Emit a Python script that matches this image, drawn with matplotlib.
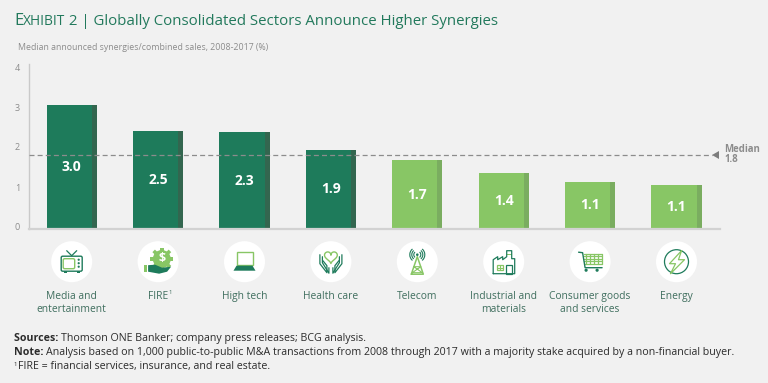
import numpy as np
import matplotlib
matplotlib.use("Agg")
import matplotlib.pyplot as plt
from matplotlib.patches import Circle, Rectangle, Polygon, Arc, FancyBboxPatch

categories = ["Media and\nentertainment", "FIRE", "High tech", "Health care", "Telecom",
              "Industrial and\nmaterials", "Consumer goods\nand services", "Energy"]
bar_heights = [3.03, 2.40, 2.36, 1.93, 1.68, 1.37, 1.15, 1.08]
bar_labels = ["3.0", "2.5", "2.3", "1.9", "1.7", "1.4", "1.1", "1.1"]
groups = ["high", "high", "high", "high", "low", "low", "low", "low"]
median = 1.8
y_tick_labels = ["0", "1", "2", "3", "4"]

BG = "#f1f1f1"
DARK = "#1e7b5b"
DARK_SIDE = "#33664f"
LIGHT = "#88c665"
LIGHT_SIDE = "#7aad60"
TITLE = "#22795c"
LABEL = "#3f6e5e"
GREY = "#8c8c8c"
FONT = "Open Sans"

W, H = 768, 383
plt.rcParams["font.family"] = FONT
fig = plt.figure(figsize=(W / 100, H / 100), dpi=100, facecolor=BG)

# main axes placed in pixels: axis 28.5-719.7, baseline y=229, top y=64
ax = fig.add_axes([28.5 / W, 1 - 229 / H, (719.7 - 28.5) / W, 165 / H], facecolor="none")
ax.set_xlim(-0.5, 7.5)
ax.set_ylim(0, 165 / 41)

bar_w = 0.582
side_w = 0.058
for i, h in enumerate(bar_heights):
    col, side = (DARK, DARK_SIDE) if groups[i] == "high" else (LIGHT, LIGHT_SIDE)
    ax.bar(i, h, width=bar_w, color=col, zorder=2)
    ax.bar(i + bar_w / 2 - side_w / 2, h, width=side_w, color=side, zorder=2)
    ax.text(i, h / 2, bar_labels[i], color="white", fontsize=10, fontweight="bold",
            ha="center", va="center", zorder=4)

ax.plot([-0.5, 7.41], [median, median], color=GREY, lw=0.9, dashes=(4, 2.5), zorder=3)

for s in ["top", "right"]:
    ax.spines[s].set_visible(False)
ax.spines["left"].set_color("#c9c9c9")
ax.spines["left"].set_linewidth(1)
ax.spines["bottom"].set_color("#d2d2d2")
ax.spines["bottom"].set_linewidth(1.6)
ax.set_xticks([])
# the printed labels sit slightly off the true scale in the original
ax.set_yticks([0.07, 1.02, 2.0, 2.97, 3.93])
ax.set_yticklabels(y_tick_labels, fontsize=6.5, color=GREY)
ax.tick_params(axis="y", length=0, pad=6)

# overlay in pixel coordinates for texts and icons
ov = fig.add_axes([0, 0, 1, 1], facecolor="none")
ov.set_xlim(0, W)
ov.set_ylim(H, 0)
ov.axis("off")


def runs(x, y, parts):
    """Write text pieces one after another on a line"""
    r = fig.canvas.get_renderer()
    for txt, dy, kw in parts:
        t = ov.text(x, y + dy, txt, va="baseline", ha="left", **kw)
        x = ov.transData.inverted().transform(t.get_window_extent(r).get_points())[1][0]
    return x


# title, small caps by hand
runs(14, 25, [("E", 0, dict(fontsize=11.8, color=TITLE)),
              ("XHIBIT", 0, dict(fontsize=9.9, color=TITLE)),
              (" 2 | Globally Consolidated Sectors Announce Higher Synergies", 0,
               dict(fontsize=10.8, color=TITLE))])
ov.text(18, 47.5, "Median announced synergies/combined sales, 2008-2017 (%)",
        fontsize=6.3, color=GREY, va="center")

# median marker
ov.add_patch(Polygon([[712, 155], [719, 151], [719, 159]], color="#7d7d7d", lw=0))
ov.text(724, 149, "Median", fontsize=6.9, fontweight="bold", color=GREY, va="center")
ov.text(724, 160, "1.8", fontsize=6.9, fontweight="bold", color=GREY, va="center")


def rect(cx, cy, x0, y0, x1, y1, **kw):
    ov.add_patch(Rectangle((cx + x0, cy + y0), x1 - x0, y1 - y0, **kw))


def line(cx, cy, pts, color, lw=0.9):
    p = np.array(pts, dtype=float)
    ov.plot(cx + p[:, 0], cy + p[:, 1], color=color, lw=lw, solid_capstyle="round")


def icon_tv(cx, cy):
    ov.add_patch(FancyBboxPatch((cx - 10.5, cy - 5.5), 21, 15, boxstyle="round,pad=0,rounding_size=1.5",
                                fc="none", ec=DARK, lw=1))
    ov.add_patch(FancyBboxPatch((cx - 8.5, cy - 3), 11.5, 10, boxstyle="round,pad=0,rounding_size=1.5",
                                fc="none", ec=LIGHT, lw=1))
    for dy in [-2, 1.5, 5]:
        ov.add_patch(Circle((cx + 7, cy + dy), 1.1, color=DARK, lw=0))
    line(cx, cy, [(-5, -11), (0, -6), (5, -11)], DARK)
    rect(cx, cy, -8, 9.5, -5, 11.5, color=DARK, lw=0)
    rect(cx, cy, 5, 9.5, 8, 11.5, color=DARK, lw=0)


def icon_fire(cx, cy):
    gx, gy = cx + 3.7, cy - 2.7
    for a in np.arange(0, 360, 45):
        ov.add_patch(Rectangle((gx - 1.8, gy - 11.5), 3.6, 4, color=LIGHT, lw=0,
                               transform=matplotlib.transforms.Affine2D().rotate_deg_around(gx, gy, a) + ov.transData))
    ov.add_patch(Circle((gx, gy), 9, color=LIGHT, lw=0))
    ov.text(gx, gy, "$", color="white", fontsize=9, fontweight="bold", ha="center", va="center")
    ov.add_patch(Polygon([[cx - 10, cy + 3.5], [cx - 3, cy + 3], [cx + 4, cy + 6], [cx + 13, cy + 5],
                          [cx + 9, cy + 10], [cx + 1, cy + 12], [cx - 10, cy + 10]], color=DARK, lw=0))
    rect(cx, cy, -14, 3, -11, 10.5, color=LIGHT, lw=0)


def icon_laptop(cx, cy):
    rect(cx, cy, -8, -9.5, 8, 3, fc="none", ec=LIGHT, lw=1)
    ov.add_patch(Polygon([[cx - 8, cy + 4], [cx + 8, cy + 4], [cx + 11, cy + 9], [cx - 11, cy + 9]],
                         color=DARK, lw=0))


def icon_health(cx, cy):
    t = np.linspace(0, 2 * np.pi, 60)
    hx = 16 * np.sin(t) ** 3 * 0.4
    hy = -(13 * np.cos(t) - 5 * np.cos(2 * t) - 2 * np.cos(3 * t) - np.cos(4 * t)) * 0.4
    ov.plot(cx + hx, cy - 5 + hy, color=LIGHT, lw=1)
    for s in [-1, 1]:
        line(cx, cy, [(s * 11, -7), (s * 11, 2), (s * 4, 11), (s * 4, 4), (s * 8, -1)], DARK)
        line(cx, cy, [(s * 8.5, -5), (s * 8.5, 1), (s * 2, 11.5), (s * 2, 6)], DARK)


def icon_telecom(cx, cy):
    ov.add_patch(Circle((cx, cy - 7), 1.3, color=DARK, lw=0))
    for r in [3.5, 5.5, 7.5]:
        ov.add_patch(Arc((cx, cy - 7), 2 * r, 2 * r, theta1=-50, theta2=50, color=DARK, lw=0.8))
        ov.add_patch(Arc((cx, cy - 7), 2 * r, 2 * r, theta1=130, theta2=230, color=DARK, lw=0.8))
    line(cx, cy, [(-6, 12.5), (0, -5), (6, 12.5), (-6, 12.5)], LIGHT, 1.1)
    line(cx, cy, [(-3.5, 5), (3.5, 5), (-5, 11), (5, 11), (-3.5, 5)], LIGHT, 0.8)


def icon_factory(cx, cy):
    line(cx, cy, [(-10.5, 12), (-10.5, -2), (-6, -5), (-6, -2), (-1, -5), (-1, -2), (3, -5), (3, -11),
                  (8, -11), (8, -3), (11, -3), (11, 12), (-10.5, 12)], DARK)
    rect(cx, cy, 2.5, 3, 8, 12, fc="none", ec=DARK, lw=0.9)
    rect(cx, cy, -7, 3.5, -1, 8.5, fc="none", ec=LIGHT, lw=0.9)
    line(cx, cy, [(-4, 3.5), (-4, 8.5)], LIGHT, 0.8)
    line(cx, cy, [(-7, 6), (-1, 6)], LIGHT, 0.8)
    rect(cx, cy, 3, -8, 8, -6.5, color=LIGHT, lw=0)


def icon_cart(cx, cy):
    for y in np.arange(-8, 2.5, 2.5):
        line(cx, cy, [(-6, y), (12, y)], LIGHT, 0.9)
    for x in np.arange(-4, 12.5, 4):
        line(cx, cy, [(x, -8), (x, 2)], LIGHT, 0.9)
    line(cx, cy, [(-11.5, -9.5), (-7.5, -9), (-5, 6), (12, 6)], DARK, 1)
    ov.add_patch(Circle((cx - 4, cy + 8.5), 1.6, color=DARK, lw=0))
    ov.add_patch(Circle((cx + 7, cy + 8.5), 1.6, color=DARK, lw=0))


def icon_energy(cx, cy):
    ov.add_patch(Circle((cx, cy), 12, fc="none", ec=DARK, lw=0.9))
    line(cx, cy, [(5, -11), (-7, 2), (-1, 2), (-6, 12), (8, -2), (2, -2), (5, -11)], LIGHT, 0.9)


icons = [icon_tv, icon_fire, icon_laptop, icon_health, icon_telecom, icon_factory, icon_cart, icon_energy]

for i, name in enumerate(categories):
    cx = 28.5 + (i + 0.5) * (719.7 - 28.5) / 8
    cy = 261.7
    ov.add_patch(Circle((cx, cy), 20.5, color="white", lw=0))
    icons[i](cx, cy)
    for j, part in enumerate(name.split("\n")):
        ov.text(cx, 299 + j * 13, part, fontsize=7.4, color=LABEL, ha="center", va="baseline")

# superscript of FIRE
ov.text(168, 292.5, "1", fontsize=4.2, color=LABEL, ha="left", va="center")

# notes
NOTE = "#2b2b2b"
reg = dict(fontsize=7.62, color=NOTE)
bold = dict(fontsize=7.62, color=NOTE, fontweight="bold")
runs(14, 341, [("Sources: ", 0, bold), ("Thomson ONE Banker; company press releases; BCG analysis.", 0, reg)])
runs(14, 355, [("Note: ", 0, bold), ("Analysis based on 1,000 public-to-public M&A transactions from 2008 through 2017 "
                                     "with a majority stake acquired by a non-financial buyer.", 0, reg)])
runs(14, 369, [("1", -3, dict(fontsize=4.4, color=NOTE)),
               ("FIRE = financial services, insurance, and real estate.", 0, reg)])

fig.savefig("out.png", dpi=100, facecolor=BG)
